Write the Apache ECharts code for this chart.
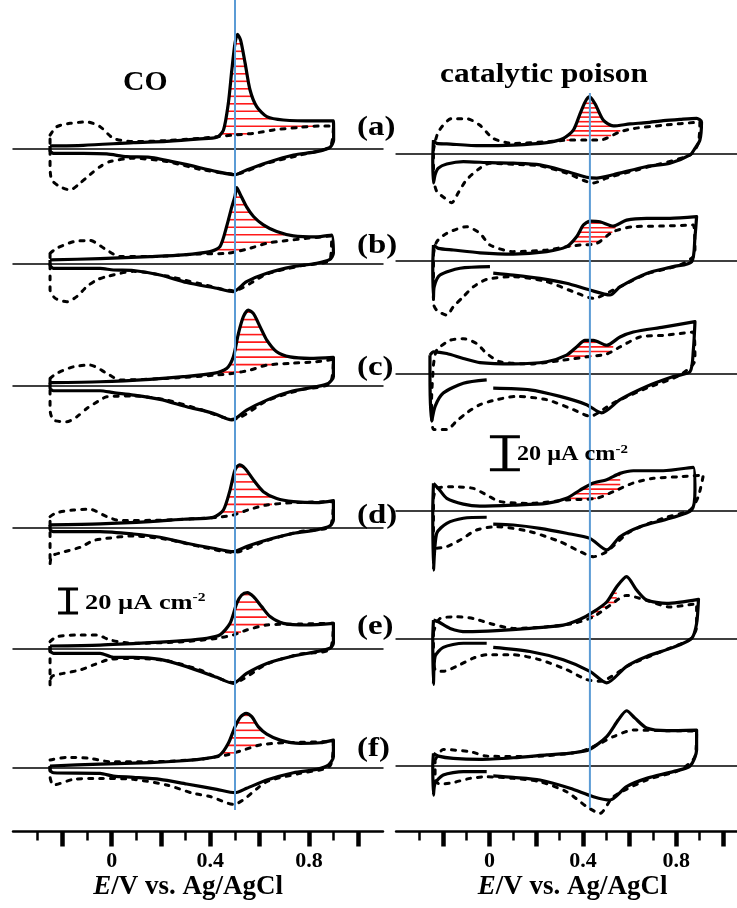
<!DOCTYPE html>
<html>
<head>
<meta charset="utf-8">
<script src="https://cdn.jsdelivr.net/npm/echarts@6/dist/echarts.min.js"></script>
<style>
  html, body { margin: 0; padding: 0; background: #fff; }
  #chart { width: 737px; height: 908px; }
</style>
</head>
<body>
<div id="chart"></div>
<script>
// potential axis (V vs. Ag/AgCl)
const majorTicks = [-0.2, 0, 0.2, 0.4, 0.6, 0.8, 1.0];
const minorTicks = [-0.3, -0.1, 0.1, 0.3, 0.5, 0.7, 0.9];
const tickLabels = [0, 0.4, 0.8];
const panelLabels = ["(a)", "(b)", "(c)", "(d)", "(e)", "(f)"];
const columnTitles = ["CO", "catalytic poison"];
const guidePotentials = [0.50, 0.43];
const scaleBarSize = 20; // µA cm-2
const GAP = ["-", "-"]; // pen lifted between two traced pieces

// CO stripping column: [E / V, j / µA cm-2]; solid = stripping scan, dotted = next scan
const coA_up = [[-0.25,2],[-0.115,2.5],[0.088,4.7],[0.223,5.8],[0.358,7.8],[0.426,9.2],[0.453,15],[0.473,37.5],[0.487,65],[0.5,87.5],[0.51,95],[0.523,90],[0.541,71],[0.561,48.6],[0.588,34.7],[0.629,26.4],[0.696,23.6],[0.831,22.8],[0.899,22.8]];
const coA_down = [[0.899,22.8],[0.9,7],[0.885,0.8],[0.831,-2.8],[0.737,-5.6],[0.629,-12],[0.547,-18],[0.5,-22],[0.426,-19.4],[0.29,-13],[0.155,-7.5],[0.061,-7],[-0.02,-4.7],[-0.115,-4.2],[-0.236,-4.2],[-0.25,-2],[-0.25,2]];
const coA_dotUp = [[-0.25,11],[-0.223,18],[-0.169,20.8],[-0.101,22],[-0.047,18],[0.007,8.3],[0.088,5.6],[0.223,6.4],[0.358,8.3],[0.426,9.7],[0.493,11],[0.575,12.5],[0.656,15.3],[0.764,17.5],[0.845,18.6],[0.899,18.6]];
const coA_dotDown = [[0.899,18.6],[0.885,1.4],[0.764,-5.6],[0.629,-12.5],[0.5,-21.4],[0.358,-17.5],[0.223,-11],[0.088,-8.3],[-0.007,-11],[-0.047,-15.3],[-0.088,-22],[-0.128,-29],[-0.169,-34.7],[-0.21,-32],[-0.243,-26.4],[-0.25,-15.3],[-0.25,-4.2],[-0.25,11]];

const coB_up = [[-0.25,2.8],[-0.047,3.9],[0.155,5.6],[0.29,7],[0.399,9.7],[0.439,13.9],[0.466,30.6],[0.487,47],[0.5,56],[0.507,63],[0.52,58],[0.547,47],[0.575,39],[0.615,32],[0.669,26.4],[0.737,22.8],[0.831,22],[0.892,23.6]];
const coB_down = [[0.892,23.6],[0.899,8.3],[0.885,3.3],[0.831,0],[0.737,-2.8],[0.629,-8.3],[0.547,-15.3],[0.493,-23.6],[0.426,-20.8],[0.304,-16],[0.196,-9.7],[0.088,-6],[0.007,-5.6],[-0.047,-4.2],[-0.236,-4.2],[-0.25,-1.4],[-0.25,2.8]];
const coB_dotUp = [[-0.25,8.3],[-0.223,12.5],[-0.155,18],[-0.088,19],[-0.02,11],[0.034,5.6],[0.155,5.6],[0.358,7.8],[0.466,8.3],[0.547,11.7],[0.629,16.7],[0.696,18.6],[0.791,20.8],[0.892,22.8]];
const coB_dotDown = [[0.892,22.8],[0.885,2.8],[0.764,-2.2],[0.629,-9],[0.493,-22.8],[0.358,-17],[0.223,-10.6],[0.088,-6.7],[-0.02,-11],[-0.061,-13.9],[-0.101,-19.4],[-0.142,-27.8],[-0.182,-32],[-0.23,-29],[-0.25,-22],[-0.25,-11],[-0.25,8.3]];

const coC_up = [[-0.25,2.5],[-0.047,3.3],[0.155,5.3],[0.29,7.5],[0.412,10.3],[0.466,14.4],[0.493,24],[0.514,43.6],[0.534,57.5],[0.554,63],[0.575,60],[0.602,49],[0.629,38],[0.669,28.3],[0.723,24],[0.804,22.8],[0.899,23.6]];
const coC_down = [[0.899,23.6],[0.899,7.5],[0.879,2],[0.831,-0.8],[0.723,-5],[0.629,-12],[0.547,-20.3],[0.487,-28.6],[0.412,-23],[0.304,-17.5],[0.196,-11.4],[0.088,-7.8],[0.007,-5.8],[-0.047,-4.2],[-0.236,-4.2],[-0.25,-2.2],[-0.25,2.5]];
const coC_dotUp = [[-0.25,6],[-0.223,10.3],[-0.155,15.8],[-0.088,17.2],[-0.02,10.3],[0.034,4.7],[0.223,6.1],[0.426,8.9],[0.493,10.3],[0.561,13],[0.629,17.2],[0.723,18.6],[0.831,20],[0.899,22]];
const coC_dotDown = [[0.899,22],[0.885,1.9],[0.764,-3.6],[0.629,-12.5],[0.493,-28],[0.358,-19.7],[0.223,-12],[0.088,-8.6],[-0.02,-9.2],[-0.047,-12],[-0.101,-19],[-0.142,-26],[-0.182,-30],[-0.236,-28.6],[-0.25,-20],[-0.25,-6.4],[-0.25,6]];

const coD_up = [[-0.25,2],[-0.047,2.8],[0.155,4.7],[0.29,6.7],[0.412,8.3],[0.453,14.4],[0.48,31],[0.5,47.8],[0.518,52],[0.541,49],[0.575,39.4],[0.615,29.7],[0.669,24],[0.737,21.4],[0.831,20.5],[0.899,22.2]];
const coD_down = [[0.899,22.2],[0.899,6.1],[0.885,1.1],[0.831,-2.2],[0.737,-5],[0.629,-10.6],[0.547,-16],[0.493,-20.3],[0.412,-17.5],[0.304,-13.3],[0.196,-8.3],[0.088,-5.6],[-0.047,-3.6],[-0.236,-3.6],[-0.25,-1.7],[-0.25,2]];
const coD_dotUp = [[-0.25,8.9],[-0.223,12.2],[-0.155,14.4],[-0.088,15],[-0.02,8.9],[0.034,5.6],[0.223,6.1],[0.426,8.3],[0.493,10.3],[0.561,15],[0.629,18.6],[0.737,20.5],[0.899,21.4]];
const coD_dotDown = [[0.899,21.4],[0.885,0.6],[0.764,-3.6],[0.629,-11],[0.493,-21],[0.358,-16],[0.223,-10],[0.088,-7.2],[-0.02,-9.2],[-0.074,-11],[-0.128,-16.7],[-0.203,-21],[-0.243,-24],[-0.25,-31],[-0.25,-10.6],[-0.25,8.9]];

const coE_up = [[-0.25,2.5],[-0.047,3.3],[0.155,5.3],[0.29,7],[0.385,8.9],[0.439,11.7],[0.48,21.4],[0.507,38],[0.527,45],[0.55,47],[0.575,43.6],[0.608,35.3],[0.642,27],[0.696,21.4],[0.791,20],[0.899,21.4]];
const coE_down = [[0.899,21.4],[0.899,4.7],[0.885,0.6],[0.831,-2.2],[0.737,-5.8],[0.629,-12],[0.547,-20.3],[0.493,-28.6],[0.426,-23.6],[0.304,-14.7],[0.196,-8.6],[0.088,-6.9],[0.007,-6.9],[-0.047,-3.6],[-0.236,-3.6],[-0.25,-1.4],[-0.25,2.5]];
const coE_dotUp = [[-0.25,6.1],[-0.223,10.3],[-0.142,11.7],[-0.061,11.7],[-0.007,7.5],[0.088,4.7],[0.29,6.1],[0.426,8.9],[0.493,11.7],[0.547,15.8],[0.629,20],[0.764,20.8],[0.899,21.4]];
const coE_dotDown = [[0.899,21.4],[0.885,-0.3],[0.764,-4.2],[0.629,-12.5],[0.493,-28],[0.358,-17.5],[0.223,-9.7],[0.088,-7.8],[-0.007,-8.6],[-0.074,-13.3],[-0.128,-17.5],[-0.196,-20.3],[-0.243,-23],[-0.25,-30],[-0.25,-12],[-0.25,6.1]];

const coF_up = [[-0.25,1.4],[-0.047,3],[0.155,4.2],[0.29,5.8],[0.385,7.8],[0.439,10.6],[0.473,20.3],[0.5,34],[0.523,42.5],[0.545,45.3],[0.568,42.5],[0.595,34],[0.629,28],[0.683,23],[0.764,20.3],[0.845,20.8],[0.899,23]];
const coF_down = [[0.899,23],[0.899,9.2],[0.879,2.2],[0.831,-1.4],[0.737,-4.2],[0.629,-10.3],[0.547,-17.2],[0.5,-20.8],[0.426,-18],[0.304,-13.6],[0.196,-9.7],[0.088,-8],[0.007,-7],[-0.047,-4.7],[-0.236,-4.2],[-0.25,-2],[-0.25,1.4]];
const coF_dotUp = [[-0.25,6.4],[-0.182,8.6],[-0.088,7.8],[-0.007,5],[0.155,5],[0.358,7],[0.466,10.6],[0.534,14.7],[0.602,19],[0.696,20.8],[0.899,21.7]];
const coF_dotDown = [[0.899,21.7],[0.885,1.4],[0.764,-4.7],[0.629,-11.7],[0.493,-30.5],[0.399,-24],[0.331,-21.4],[0.223,-14.4],[0.088,-9.7],[-0.047,-8.9],[-0.155,-9.7],[-0.236,-14.4],[-0.25,-7.5],[-0.25,6.4]];

// catalytic poison column
const poA_up = [[-0.24,8],[-0.226,6],[-0.183,5.7],[-0.041,4.6],[0.102,5],[0.245,6.5],[0.316,9],[0.359,14],[0.388,24],[0.409,31],[0.428,34.3],[0.452,30],[0.488,20],[0.53,16.6],[0.602,17.8],[0.673,18.6],[0.744,19.8],[0.816,20.6],[0.887,21.2],[0.908,19]];
const poA_down = [[0.908,19],[0.901,8],[0.88,3],[0.859,-1],[0.773,-6],[0.673,-8],[0.53,-13],[0.459,-15],[0.416,-14.5],[0.33,-11],[0.216,-7],[0.102,-6],[0.002,-5.7],[-0.112,-5],[-0.183,-6.5],[-0.219,-9],[-0.233,-13],[-0.24,-18],[-0.243,-4],[-0.24,8]];
const poA_dotUp = [[-0.24,2],[-0.219,13],[-0.162,21],[-0.098,21],[-0.041,17],[0.016,9],[0.102,6],[0.245,7],[0.345,8],[0.416,8],[0.473,8],[0.559,13],[0.616,15],[0.744,17],[0.901,19]];
const poA_dotDown = [[0.901,19],[0.894,6],[0.859,-1],[0.673,-8.5],[0.502,-15],[0.445,-18],[0.33,-12],[0.216,-7.6],[0.102,-6.7],[0.002,-6],[-0.041,-9],[-0.098,-16],[-0.134,-24],[-0.162,-30],[-0.183,-28],[-0.226,-23],[-0.24,-14],[-0.24,2]];

const poB_up = [[-0.24,9.5],[-0.219,7.5],[-0.155,6.5],[-0.041,4.8],[0.102,4],[0.245,5.5],[0.33,8.5],[0.373,14.5],[0.402,21.6],[0.43,24],[0.473,23.6],[0.53,21],[0.587,24.6],[0.673,25.7],[0.773,25.7],[0.887,26.7]];
const poB_down = [[0.887,26.7],[0.88,14.5],[0.866,-0.6],[0.787,-3.6],[0.673,-7.7],[0.559,-15.8],[0.516,-20.8],[0.43,-17.8],[0.33,-13.7],[0.216,-10.7],[0.102,-8.7],[0.016,-7.5],GAP,[0.002,-3.6],[-0.126,-4.6],[-0.212,-8.7],[-0.237,-15.8],[-0.24,-22.8],[-0.243,-3.6],[-0.24,9.5]];
const poB_dotUp = [[-0.24,4],[-0.226,11.5],[-0.183,16.6],[-0.098,20.6],[-0.041,16.6],[0.002,9.5],[0.102,5.5],[0.245,6.5],[0.33,8.5],[0.388,9.5],[0.459,10.5],[0.53,17.6],[0.616,20.6],[0.744,21],[0.873,21.6]];
const poB_dotDown = [[0.873,21.6],[0.88,4.4],[0.816,-2.6],[0.673,-8],[0.53,-17.8],[0.445,-22.8],[0.359,-18.8],[0.245,-12.7],[0.102,-9.7],[-0.012,-11.3],[-0.069,-15.8],[-0.112,-21.8],[-0.155,-27.9],[-0.183,-33],[-0.226,-30],[-0.24,-26],[-0.24,-3.6],[-0.24,4]];

const poC_up = [[-0.255,11],[-0.24,13],[-0.183,12],[-0.112,9],[-0.041,6.5],[0.102,5.7],[0.245,7],[0.33,11],[0.373,16],[0.409,20],[0.445,20],[0.502,17],[0.559,22],[0.616,25],[0.744,28],[0.88,31.3]];
const poC_down = [[0.88,31.3],[0.873,14],[0.859,1],[0.787,-2],[0.673,-8],[0.559,-16],[0.48,-24],[0.416,-19],[0.302,-14],[0.173,-10],[0.016,-9],GAP,[-0.012,-4],[-0.112,-6],[-0.198,-12],[-0.233,-20],[-0.248,-29],[-0.255,0],[-0.255,11]];
const poC_dotUp = [[-0.24,5],[-0.226,14],[-0.169,20],[-0.112,21],[-0.055,18],[-0.012,12],[0.045,7],[0.173,5.7],[0.316,8],[0.416,10],[0.502,11.7],[0.559,16],[0.644,22],[0.744,23],[0.873,25]];
const poC_dotDown = [[0.873,25],[0.88,8],[0.816,-1],[0.673,-9],[0.53,-18],[0.43,-26],[0.359,-22],[0.245,-16],[0.116,-14],[0.031,-16],[-0.041,-19],[-0.098,-24],[-0.141,-29],[-0.183,-34],[-0.24,-34],[-0.248,-16],[-0.24,5]];

const poD_up = [[-0.24,16.8],[-0.219,13.7],[-0.183,7.7],[-0.112,4.2],[-0.041,3],[0.102,3.6],[0.245,4.6],[0.33,7.7],[0.388,12.7],[0.445,17],[0.502,19],[0.559,22.8],[0.616,24.4],[0.744,24.4],[0.873,26.5]];
const poD_down = [[0.873,26.5],[0.88,12.7],[0.866,0.6],[0.773,-4.4],[0.645,-9.5],[0.559,-15.6],[0.502,-23.6],[0.43,-16.6],[0.33,-13.5],[0.216,-10.5],[0.102,-8.5],[0.016,-8],GAP,[-0.012,-3.8],[-0.112,-4.4],[-0.183,-7.5],[-0.226,-13.5],[-0.24,-35.8],[-0.243,0],[-0.24,16.8]];
const poD_dotUp = [[-0.24,8],[-0.226,13.7],[-0.155,14.7],[-0.069,13.7],[-0.012,9.7],[0.045,5.7],[0.173,4.6],[0.33,6.7],[0.459,7.7],[0.53,11.7],[0.616,17],[0.702,19.8],[0.816,20.8],[0.916,21.8]];
const poD_dotDown = [[0.916,21.8],[0.894,8.7],[0.859,0.6],[0.744,-4.4],[0.602,-12.5],[0.502,-24.6],[0.445,-27.7],[0.388,-24.6],[0.302,-18.6],[0.173,-12.5],[0.031,-9.5],[-0.055,-11.5],[-0.126,-17.6],[-0.183,-21.6],[-0.226,-22.6],[-0.24,-11.5],[-0.24,8]];

const poE_up = [[-0.24,11],[-0.219,10],[-0.169,6],[-0.098,4],[0.031,4.6],[0.173,6],[0.316,8],[0.388,11.5],[0.445,16],[0.502,22],[0.545,31.3],[0.587,37.4],[0.63,29.3],[0.673,23.2],[0.759,21.2],[0.895,23.6]];
const poE_down = [[0.895,23.6],[0.887,9],[0.866,0],[0.787,-5.5],[0.673,-11],[0.587,-17],[0.502,-27],[0.43,-20],[0.316,-13],[0.173,-8],[0.016,-5.5],GAP,[-0.012,-3],[-0.112,-3],[-0.198,-5.5],[-0.233,-11],[-0.24,-28],[-0.243,0],[-0.24,11]];
const poE_dotUp = [[-0.24,4],[-0.212,12],[-0.141,13],[-0.069,12],[0.002,9],[0.102,6],[0.245,7],[0.359,9],[0.445,13],[0.516,20],[0.587,26],[0.673,23],[0.773,19],[0.887,21]];
const poE_dotDown = [[0.887,21],[0.887,7],[0.859,-0.6],[0.744,-7.5],[0.602,-16],[0.473,-26],[0.416,-25],[0.33,-19],[0.216,-13],[0.102,-10],[-0.012,-10],[-0.069,-12],[-0.141,-17],[-0.198,-20],[-0.233,-19],[-0.24,-9],[-0.24,4]];

const poF_up = [[-0.24,7.7],[-0.219,6],[-0.155,4.6],[-0.041,4],[0.102,5],[0.245,6.7],[0.359,8],[0.428,10],[0.502,17.8],[0.552,28],[0.587,33.5],[0.623,29],[0.673,23],[0.759,21.4],[0.887,21.8]];
const poF_down = [[0.887,21.8],[0.887,9.7],[0.859,0],[0.787,-3.4],[0.673,-7.5],[0.587,-12.5],[0.516,-20.6],[0.445,-18.6],[0.345,-13.5],[0.216,-8.5],[0.102,-6.9],[0.016,-6],GAP,[-0.012,-3.4],[-0.112,-3.4],[-0.198,-5.5],[-0.233,-10.5],[-0.24,-17.6],[-0.243,0],[-0.24,7.7]];
const poF_dotUp = [[-0.233,3.6],[-0.198,10],[-0.083,8.7],[-0.012,6],[0.173,5.7],[0.388,8.7],[0.473,13.7],[0.53,17.8],[0.616,21.8],[0.744,21.4],[0.887,20.8]];
const poF_dotDown = [[0.887,20.8],[0.88,5.7],[0.816,-2.4],[0.673,-8.5],[0.53,-18.6],[0.473,-28.7],[0.416,-24.6],[0.33,-15.6],[0.216,-9.5],[0.102,-7.5],[-0.012,-6.5],[-0.083,-7.5],[-0.155,-10],[-0.212,-11],[-0.233,-8.5],[-0.233,3.6]];

// potential windows of the red hatched (stripping charge) areas
const coHatch = [[0.43, 0.86], [0.40, 0.70], [0.43, 0.72], [0.45, 0.65], [0.43, 0.63], [0.45, 0.62]];
const poisonHatch = [[0.33, 0.56], [0.34, 0.54], [0.30, 0.53], [0.345, 0.56], [0.39, 0.545], null];

const coPanels = [
  [coA_up, coA_down, coA_dotUp, coA_dotDown],
  [coB_up, coB_down, coB_dotUp, coB_dotDown],
  [coC_up, coC_down, coC_dotUp, coC_dotDown],
  [coD_up, coD_down, coD_dotUp, coD_dotDown],
  [coE_up, coE_down, coE_dotUp, coE_dotDown],
  [coF_up, coF_down, coF_dotUp, coF_dotDown]
];
const poisonPanels = [
  [poA_up, poA_down, poA_dotUp, poA_dotDown],
  [poB_up, poB_down, poB_dotUp, poB_dotDown],
  [poC_up, poC_down, poC_dotUp, poC_dotDown],
  [poD_up, poD_down, poD_dotUp, poD_dotDown],
  [poE_up, poE_down, poE_dotUp, poE_dotDown],
  [poF_up, poF_down, poF_dotUp, poF_dotDown]
];

// page layout (pixels)
const FONT = '"Liberation Serif", "Times New Roman", serif';
const columns = [
  { panels: coPanels, hatch: coHatch, hatchStep: 7.5, left: 13.06, right: 354.04, xMax: 1.1,
    bases: [148.3, 263.3, 385.7, 527.3, 649, 767.7], k: 1.2, yRange: [-60, 120],
    guideTop: 0, guideBottom: 810, namePad: [0, 20, 0, 0],
    bar: { panel: 4, e: -0.177, lo: 30, half: 10, stem: 4 } },
  { panels: poisonPanels, hatch: poisonHatch, hatchStep: 4.6, left: 396.1, right: 0, xMax: 1.06,
    bases: [153.3, 260.7, 373.3, 511, 638.3, 766], k: 1.65, yRange: [-60, 60],
    guideTop: 93, guideBottom: 808, namePad: [0, 0, 0, 12],
    bar: { panel: 3, e: 0.066, lo: 25, half: 15, stem: 5 } }
];
const AXIS_Y = 831.5;

function valueAt(curve, e) {
  for (let i = 0; i < curve.length - 1; i++) {
    const a = curve[i], b = curve[i + 1];
    if (a[0] !== b[0] && (a[0] - e) * (b[0] - e) <= 0) {
      return a[1] + (e - a[0]) * (b[1] - a[1]) / (b[0] - a[0]);
    }
  }
  return null;
}

function hatchPolygon(up, dotUp, range) {
  const [e1, e2] = range;
  const top = [[e1, valueAt(up, e1)], ...up.filter(p => p[0] > e1 && p[0] < e2), [e2, valueAt(up, e2)]];
  const bottom = [[e2, valueAt(dotUp, e2)], ...dotUp.filter(p => p[0] > e1 && p[0] < e2).reverse(), [e1, valueAt(dotUp, e1)]];
  return top.concat(bottom);
}

function hatchRender(poly, step) {
  return (params, api) => {
    const pts = poly.map(p => api.coord(p));
    const ys = pts.map(p => p[1]);
    const minY = Math.min(...ys), maxY = Math.max(...ys);
    const children = [];
    for (let y = minY + 2; y < maxY; y += step) {
      const xs = [];
      for (let i = 0; i < pts.length; i++) {
        const p = pts[i], q = pts[(i + 1) % pts.length];
        if ((p[1] <= y && q[1] > y) || (q[1] <= y && p[1] > y)) {
          xs.push(p[0] + (y - p[1]) * (q[0] - p[0]) / (q[1] - p[1]));
        }
      }
      xs.sort((a, b) => a - b);
      for (let j = 0; j + 1 < xs.length; j += 2) {
        children.push({ type: "line", shape: { x1: xs[j], y1: y, x2: xs[j + 1], y2: y },
          style: { stroke: "#ff1a1a", lineWidth: 1.6 } });
      }
    }
    return { type: "group", children };
  };
}

function scaleBarRender(half, stem) {
  return (params, api) => {
    const top = api.coord([api.value(0), api.value(2)]);
    const bot = api.coord([api.value(0), api.value(1)]);
    const s = { stroke: "#000", lineWidth: 3 };
    return { type: "group", children: [
      { type: "line", shape: { x1: top[0], y1: top[1], x2: bot[0], y2: bot[1] }, style: { stroke: "#000", lineWidth: stem } },
      { type: "line", shape: { x1: top[0] - half, y1: top[1], x2: top[0] + half, y2: top[1] }, style: s },
      { type: "line", shape: { x1: bot[0] - half, y1: bot[1], x2: bot[0] + half, y2: bot[1] }, style: s }
    ] };
  };
}

const grid = [], xAxis = [], yAxis = [], series = [];

function addGrid(box, xOpt, yOpt) {
  const gi = grid.length;
  grid.push(box);
  xAxis.push(Object.assign({ type: "value", gridIndex: gi, splitLine: { show: false } }, xOpt));
  yAxis.push(Object.assign({ type: "value", gridIndex: gi, show: false }, yOpt));
  return xAxis.length - 1;
}

columns.forEach((col, c) => {
  const span = { min: -0.4, max: col.xMax };

  // potential axis with major ticks and labels
  addGrid({ left: col.left, right: col.right, top: AXIS_Y - 20, height: 20 }, Object.assign({
    position: "bottom",
    axisLine: { onZero: false, lineStyle: { color: "#000", width: 2.5 } },
    axisTick: { customValues: majorTicks, length: 15, lineStyle: { color: "#000", width: 4.5 } },
    axisLabel: { customValues: tickLabels, margin: 19, color: "#000", fontFamily: FONT, fontWeight: "bold", fontSize: 22,
      formatter: v => String(v) },
    name: "{i|E}/V vs. Ag/AgCl", nameLocation: "middle", nameGap: 40,
    nameTextStyle: { color: "#000", fontFamily: FONT, fontWeight: "bold", fontSize: 27, padding: col.namePad,
      rich: { i: { fontFamily: FONT, fontWeight: "bold", fontStyle: "italic", fontSize: 27, color: "#000" } } }
  }, span), { min: 0, max: 1 });

  // minor ticks on the same line
  addGrid({ left: col.left, right: col.right, top: AXIS_Y - 20, height: 20 }, Object.assign({
    position: "bottom",
    axisLine: { show: false },
    axisTick: { customValues: minorTicks, length: 9, lineStyle: { color: "#000", width: 2.5 } },
    axisLabel: { show: false }
  }, span), { min: 0, max: 1 });

  // blue guide line through the panels
  const gx = addGrid({ left: col.left, right: col.right, top: col.guideTop, height: col.guideBottom - col.guideTop },
    Object.assign({ show: false }, span), { min: 0, max: 1 });
  series.push({
    type: "line", xAxisIndex: gx, yAxisIndex: gx, z: 10, symbol: "none", silent: true,
    data: [[guidePotentials[c], 0], [guidePotentials[c], 1]],
    lineStyle: { color: "#5b9bd5", width: 2 }
  });

  col.panels.forEach((curves, p) => {
    const [up, down, dotUp, dotDown] = curves;
    const px = addGrid({ left: col.left, right: col.right,
        top: col.bases[p] - col.yRange[1] * col.k,
        height: (col.yRange[1] - col.yRange[0]) * col.k },
      Object.assign({ axisLine: { onZero: true, lineStyle: { color: "#000", width: 1.6 } },
        axisTick: { show: false }, axisLabel: { show: false } }, span),
      { min: col.yRange[0], max: col.yRange[1] });

    const range = col.hatch[p];
    if (range) {
      series.push({ type: "custom", xAxisIndex: px, yAxisIndex: px, z: 1, silent: true,
        data: [[range[0], 0]], renderItem: hatchRender(hatchPolygon(up, dotUp, range), col.hatchStep) });
    }
    series.push({ type: "line", xAxisIndex: px, yAxisIndex: px, z: 2, symbol: "none", smooth: 0.25, silent: true,
      data: dotUp.concat(dotDown),
      lineStyle: { color: "#000", width: 3, type: [4, 7], cap: "round" } });
    series.push({ type: "line", xAxisIndex: px, yAxisIndex: px, z: 3, symbol: "none", smooth: 0.25, silent: true,
      connectNulls: false, data: up.concat(down),
      lineStyle: { color: "#000", width: 3.2, join: "round" } });

    if (col.bar.panel === p) {
      series.push({ type: "custom", xAxisIndex: px, yAxisIndex: px, z: 4, silent: true,
        data: [[col.bar.e, col.bar.lo, col.bar.lo + scaleBarSize]],
        renderItem: scaleBarRender(col.bar.half, col.bar.stem) });
    }
  });
});

const boldText = (text, x, y, size, scaleX, extra = {}) => ({
  type: "text", x, y, scaleX, silent: true, z: 20,
  style: Object.assign({ text, fill: "#000", font: `bold ${size}px ${FONT}`, verticalAlign: "middle" }, extra)
});
const supRich = { s: { font: `bold 13px ${FONT}`, fill: "#000", verticalAlign: "top", padding: [0, 0, 10, 0] } };

const labelCenters = [128, 246, 368, 516, 627, 749];
const graphic = [
  boldText(columnTitles[0], 123, 83, 27, 1.1),
  boldText(columnTitles[1], 440, 75, 27, 1.16),
  ...panelLabels.map((t, i) => boldText(t, 357, labelCenters[i], 27, 1.22)),
  boldText("20 µA cm{s|-2}", 85, 603, 22, 1.2, { rich: supRich }),
  boldText("20 µA cm{s|-2}", 517, 455, 21, 1.15, { rich: supRich })
];

const chart = echarts.init(document.getElementById("chart"), null, { renderer: "canvas" });
chart.setOption({
  backgroundColor: "#fff",
  animation: false,
  grid, xAxis, yAxis, series, graphic
});
</script>
</body>
</html>
